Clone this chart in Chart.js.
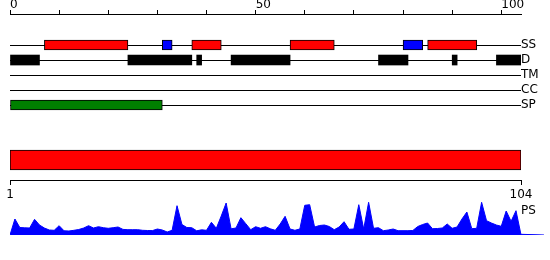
<!DOCTYPE html>
<html>
<head>
<meta charset="utf-8">
<script src="https://cdn.jsdelivr.net/npm/chart.js"></script>
<style>
  body { margin: 0; background: #fff; }
  #wrap { position: relative; width: 550px; height: 260px; }
  canvas { position: absolute; left: 0; }
</style>
</head>
<body>
<div id="wrap">
  <canvas id="tracks" width="550" height="120" style="top:0"></canvas>
  <canvas id="domain" width="550" height="65" style="top:140px"></canvas>
  <canvas id="ps" width="550" height="65" style="top:195px"></canvas>
</div>
<script>
// sequence and axis ticks
const seqLen = 104;
const topTicks = [0, 10, 20, 30, 40, 50, 60, 70, 80, 90, 100];
const topLabels = [0, 50, 100];
const seqTicks = [1, 104];

// feature tracks (start, end in residues)
const tracks = ['SS', 'D', 'TM', 'CC', 'SP'];
const helix = [[7, 24], [37, 43], [57, 66], [85, 95]];
const strand = [[31, 33], [80, 84]];
const disorder = [[0, 6], [24, 37], [38, 39], [45, 57], [75, 81], [90, 91], [99, 104]];
const signalPep = [[0, 31]];
const domainSpan = [1, 104];

// PS profile, one value per position 0..104
const psValues = [
  0, 16, 7.5, 7.2, 7, 15.7, 10, 7, 5, 4.7,
  9.3, 4.2, 4, 4.7, 5.5, 7, 9.3, 7, 8.3, 7.3,
  6.7, 7.3, 8, 5.6, 5.3, 5.3, 5.3, 4.7, 4.5, 4.4,
  6, 5, 3, 4.7, 29.3, 10.5, 7.5, 7.3, 4.2, 5.2,
  4.7, 12.7, 6.7, 19, 32, 6.2, 7, 17.3, 11.3, 5.3,
  8.3, 6.7, 8.3, 6.2, 4.7, 11, 18.7, 6, 4.7, 6,
  29.7, 30.3, 8, 9.5, 10, 8.5, 5.3, 8, 13.3, 5.7,
  6, 30.3, 6, 32.7, 6.7, 7.3, 4.3, 5, 6, 4.3,
  4.3, 4.3, 4.5, 8.5, 10.5, 12, 6.3, 6.5, 7, 11,
  6.7, 8, 16, 23, 6.3, 6.7, 32.7, 14.3, 12, 10,
  8.7, 24, 13.7, 24.3, 0.7
];
const psTail = { x: 108.7, y: 0 }; // baseline runs on past the end

Chart.defaults.font.family = 'DejaVu Sans';
Chart.defaults.font.size = 12;
Chart.defaults.color = '#000';
Chart.defaults.animation = false;

const row = (name) => tracks.indexOf(name) + 2;
const segs = (list, name) => list.map(([s, e]) => ({ x: [s, e], y: row(name) }));

function featureSet(data, color, border) {
  return {
    data,
    backgroundColor: color,
    borderColor: '#000',
    borderWidth: border ? 1 : 0,
    borderSkipped: false,
    barThickness: 10,
    grouped: false,
  };
}

new Chart(document.getElementById('tracks'), {
  type: 'bar',
  data: {
    datasets: [
      featureSet(segs(helix, 'SS'), '#ff0000', true),
      featureSet(segs(strand, 'SS'), '#0000ff', true),
      featureSet(segs(disorder, 'D'), '#000000', false),
      featureSet(segs(signalPep, 'SP'), '#008000', true),
    ],
  },
  options: {
    indexAxis: 'y',
    responsive: false,
    layout: { padding: { left: 10, right: 0, top: 0, bottom: 0 } },
    plugins: { legend: { display: false }, tooltip: { enabled: false } },
    scales: {
      x: {
        type: 'linear',
        position: 'top',
        min: 0,
        max: seqLen,
        afterBuildTicks: (s) => { s.ticks = topTicks.map((v) => ({ value: v })); },
        afterFit: (s) => { s.height = 14; },
        ticks: {
          align: 'start',
          padding: -2,
          maxRotation: 0,
          autoSkip: false,
          callback: (v) => (topLabels.includes(v) ? String(v) : ''),
        },
        grid: { drawOnChartArea: false, tickLength: 4, color: '#000' },
        border: { display: true, color: '#000' },
      },
      y: {
        type: 'linear',
        position: 'right',
        reverse: true,
        min: -0.07,
        max: 7,
        offset: false,
        afterBuildTicks: (s) => { s.ticks = tracks.map((t) => ({ value: row(t) })); },
        afterFit: (s) => {
          s.width = 29;
          s.paddingTop = 0;
          s.paddingBottom = 0;
        },
        ticks: { padding: 0, callback: (v) => tracks[v - 2] },
        grid: { offset: false, drawTicks: false, color: '#000', lineWidth: 1 },
        border: { display: false },
      },
    },
  },
});

new Chart(document.getElementById('domain'), {
  type: 'bar',
  data: {
    labels: ['domain'],
    datasets: [{
      data: [domainSpan],
      backgroundColor: '#ff0000',
      borderColor: '#000',
      borderWidth: 1,
      borderSkipped: false,
      barThickness: 20,
    }],
  },
  options: {
    indexAxis: 'y',
    responsive: false,
    layout: { padding: { left: 10, right: 29, top: 0, bottom: 0 } },
    plugins: { legend: { display: false }, tooltip: { enabled: false } },
    scales: {
      x: {
        type: 'linear',
        position: 'bottom',
        min: seqTicks[0],
        max: seqTicks[1],
        afterBuildTicks: (s) => { s.ticks = seqTicks.map((v) => ({ value: v })); },
        afterFit: (s) => { s.height = 25; },
        ticks: { padding: 2.5, maxRotation: 0, autoSkip: false },
        grid: { drawOnChartArea: false, tickLength: 5, color: '#000' },
        border: { display: true, color: '#000' },
      },
      y: { display: false },
    },
  },
});

// draws the PS label next to the end of the profile
const psLabel = {
  id: 'psLabel',
  afterDraw(chart) {
    const { ctx, chartArea } = chart;
    const x = chart.scales.x.getPixelForValue(seqLen);
    ctx.save();
    ctx.font = '12px "DejaVu Sans"';
    ctx.fillStyle = '#000';
    ctx.textAlign = 'left';
    ctx.textBaseline = 'middle';
    ctx.fillText('PS', x, chartArea.top + 16);
    ctx.restore();
  },
};

new Chart(document.getElementById('ps'), {
  type: 'line',
  data: {
    datasets: [{
      label: 'PS',
      data: psValues.map((v, i) => ({ x: i, y: v })).concat([psTail]),
      borderColor: '#0000ff',
      backgroundColor: '#0000ff',
      borderWidth: 1,
      fill: 'origin',
      pointRadius: 0,
      tension: 0,
    }],
  },
  options: {
    responsive: false,
    layout: { padding: { left: 10, right: 6, top: 0, bottom: 25 } },
    plugins: { legend: { display: false }, tooltip: { enabled: false } },
    scales: {
      x: { type: 'linear', min: 0, max: psTail.x, display: false },
      y: { min: 0, max: 40, display: false },
    },
  },
  plugins: [psLabel],
});
</script>
</body>
</html>
